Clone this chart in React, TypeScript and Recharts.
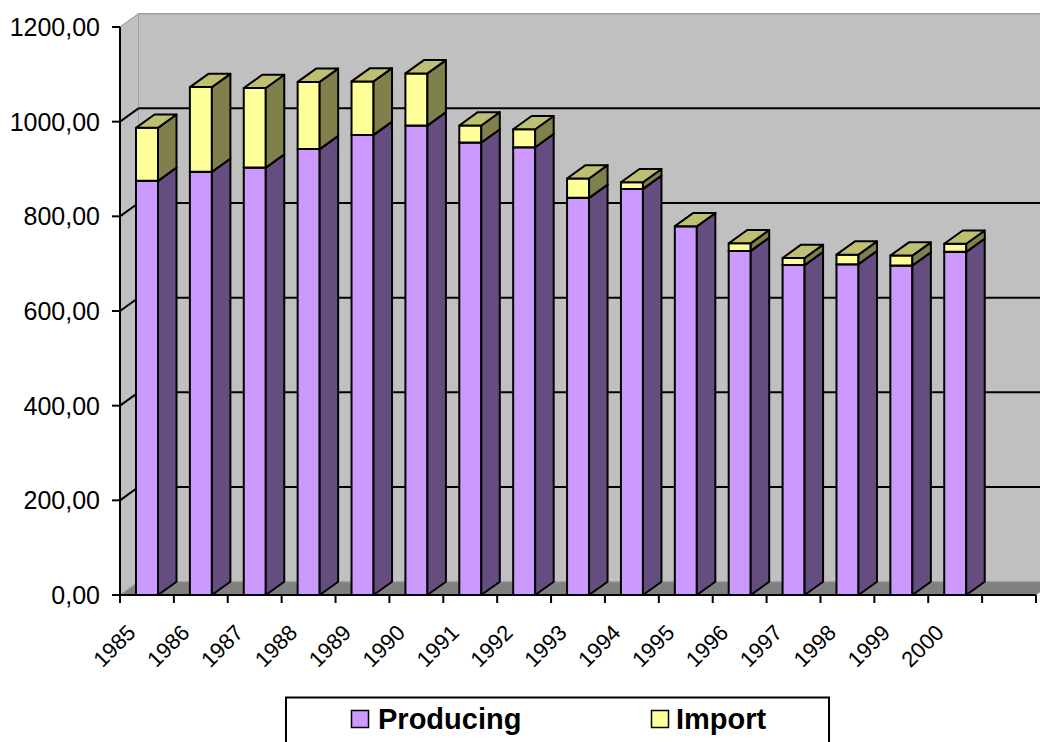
import { BarChart, Bar, XAxis, YAxis, CartesianGrid, ReferenceArea, Legend } from 'recharts';

// data (units as on the value axis)
const years = ['1985', '1986', '1987', '1988', '1989', '1990', '1991', '1992', '1993', '1994', '1995', '1996', '1997', '1998', '1999', '2000'];
const producing = [875, 894, 903, 942, 972, 992, 956, 946, 839, 858, 779, 727, 697, 699, 696, 725];
const imports = [112, 179, 168, 142, 113, 110, 36, 38, 41, 14, 0, 16, 15, 20, 21, 17];
const yTicks = [0, 200, 400, 600, 800, 1000, 1200];
// one extra empty slot after 2000, like the original sheet
const xTicks = [0, 1, 2, 3, 4, 5, 6, 7, 8, 9, 10, 11, 12, 13, 14, 15, 16, 17];

const data = years.map((year, i) => ({ pos: i + 0.5, year, producing: producing[i], imports: imports[i] }));

const W = 1040;
const H = 742;
const MARGIN = { top: 27, right: 4, left: 10, bottom: 0 };
const X_AXIS_H = 147;
const PLOT_TOP = MARGIN.top;
const PLOT_BOTTOM = H - MARGIN.bottom - X_AXIS_H;

// fake 3d depth
const DX = 18.5;
const DY = -13.3;

const FONT = "'Liberation Sans', Arial, sans-serif";

const makeBar3D = (front: string, side: string, top: string) => (props: any) => {
  const { x, y, width: w, height: h } = props;
  if (x == null || y == null) return <g />;
  return (
    <g stroke="#000" strokeWidth={2} strokeLinejoin="round">
      <rect x={x} y={y} width={w} height={h} fill={front} />
      <polygon points={`${x + w},${y} ${x + w + DX},${y + DY} ${x + w + DX},${y + h + DY} ${x + w},${y + h}`} fill={side} />
      <polygon points={`${x},${y} ${x + DX},${y + DY} ${x + w + DX},${y + DY} ${x + w},${y}`} fill={top} />
    </g>
  );
};

const ProducingShape = makeBar3D('#CC99FF', '#654D80', '#BFBF73');
const ImportShape = makeBar3D('#FFFF99', '#80804D', '#BFBF73');

// back wall, left wall and floor, from the plot box that the reference area gets
const Walls = (props: any) => {
  const { x, y, width: w, height: h } = props;
  return (
    <g>
      <rect x={x + DX} y={y + DY} width={w} height={h} fill="#C0C0C0" stroke="#8c8c8c" strokeWidth={1} />
      <polygon points={`${x},${y} ${x + DX},${y + DY} ${x + DX},${y + h + DY} ${x},${y + h}`} fill="#C0C0C0" stroke="#a0a0a0" strokeWidth={1} />
      <polygon points={`${x},${y + h} ${x + DX},${y + h + DY} ${x + w + DX},${y + h + DY} ${x + w},${y + h}`} fill="#808080" stroke="#a0a0a0" strokeWidth={1} />
    </g>
  );
};

const gridLine = (p: any) => {
  const { x1, y1, x2 } = p;
  const edge = Math.abs(y1 - PLOT_TOP) < 1 || Math.abs(y1 - PLOT_BOTTOM) < 1;
  const stroke = edge ? '#a0a0a0' : '#000';
  const sw = edge ? 1 : 2;
  return (
    <g key={`g-${y1}`}>
      <line x1={x1} y1={y1} x2={x1 + DX} y2={y1 + DY} stroke={stroke} strokeWidth={sw} />
      <line x1={x1 + DX} y1={y1 + DY} x2={x2 + DX} y2={y1 + DY} stroke={stroke} strokeWidth={sw} />
    </g>
  );
};

const YearTick = (props: any) => {
  const { x, y, payload } = props;
  const label = years[payload.value] ?? '';
  const ax = x + 17;
  const ay = y + 31;
  return (
    <text x={ax} y={ay} textAnchor="end" transform={`rotate(-45 ${ax} ${ay})`} fontSize={22} fontFamily={FONT} fill="#000">
      {label}
    </text>
  );
};

const fmt = (v: number) => v.toFixed(2).replace('.', ',');

const LegendBox = () => (
  <svg width={546} height={62} style={{ display: 'block' }}>
    <rect x={1} y={1.5} width={543} height={70} fill="#fff" stroke="#000" strokeWidth={2} />
    <rect x={66.5} y={14.5} width={17} height={17} fill="#CC99FF" stroke="#000" strokeWidth={1.5} />
    <text x={93} y={33} fontSize={29} fontWeight="bold" fontFamily={FONT} fill="#000">Producing</text>
    <rect x={366.5} y={14.5} width={17} height={17} fill="#FFFF99" stroke="#000" strokeWidth={1.5} />
    <text x={391} y={33} fontSize={29} fontWeight="bold" fontFamily={FONT} fill="#000">Import</text>
  </svg>
);

export default function App() {
  return (
    <div style={{ position: 'absolute', left: 0, top: 0, width: W, height: H, overflow: 'hidden', background: '#fff' }}>
      <BarChart width={W} height={H} data={data} margin={MARGIN}>
        <ReferenceArea y1={0} y2={1200} shape={Walls} zIndex={-200} isFront={false} />
        <CartesianGrid vertical={false} horizontal={gridLine} />
        <XAxis
          type="number"
          dataKey="pos"
          domain={[0, 17]}
          ticks={xTicks}
          interval={0}
          height={X_AXIS_H}
          tickSize={8}
          tickMargin={0}
          axisLine={{ stroke: '#000', strokeWidth: 2 }}
          tickLine={{ stroke: '#000', strokeWidth: 2 }}
          tick={<YearTick />}
        />
        <YAxis
          type="number"
          domain={[0, 1200]}
          ticks={yTicks}
          interval={0}
          width={110}
          tickSize={8}
          tickMargin={12}
          tickFormatter={fmt}
          axisLine={{ stroke: '#000', strokeWidth: 2 }}
          tickLine={{ stroke: '#000', strokeWidth: 2 }}
          tick={{ fill: '#000', fontSize: 25, fontFamily: FONT }}
        />
        <Bar dataKey="producing" name="Producing" stackId="a" barSize={22} shape={ProducingShape} isAnimationActive={false} />
        <Bar dataKey="imports" name="Import" stackId="a" barSize={22} shape={ImportShape} isAnimationActive={false} />
        <Legend
          layout="horizontal"
          align="center"
          verticalAlign="middle"
          content={() => <LegendBox />}
          wrapperStyle={{ left: 285, top: 696, width: 546, height: 62 }}
        />
      </BarChart>
    </div>
  );
}
